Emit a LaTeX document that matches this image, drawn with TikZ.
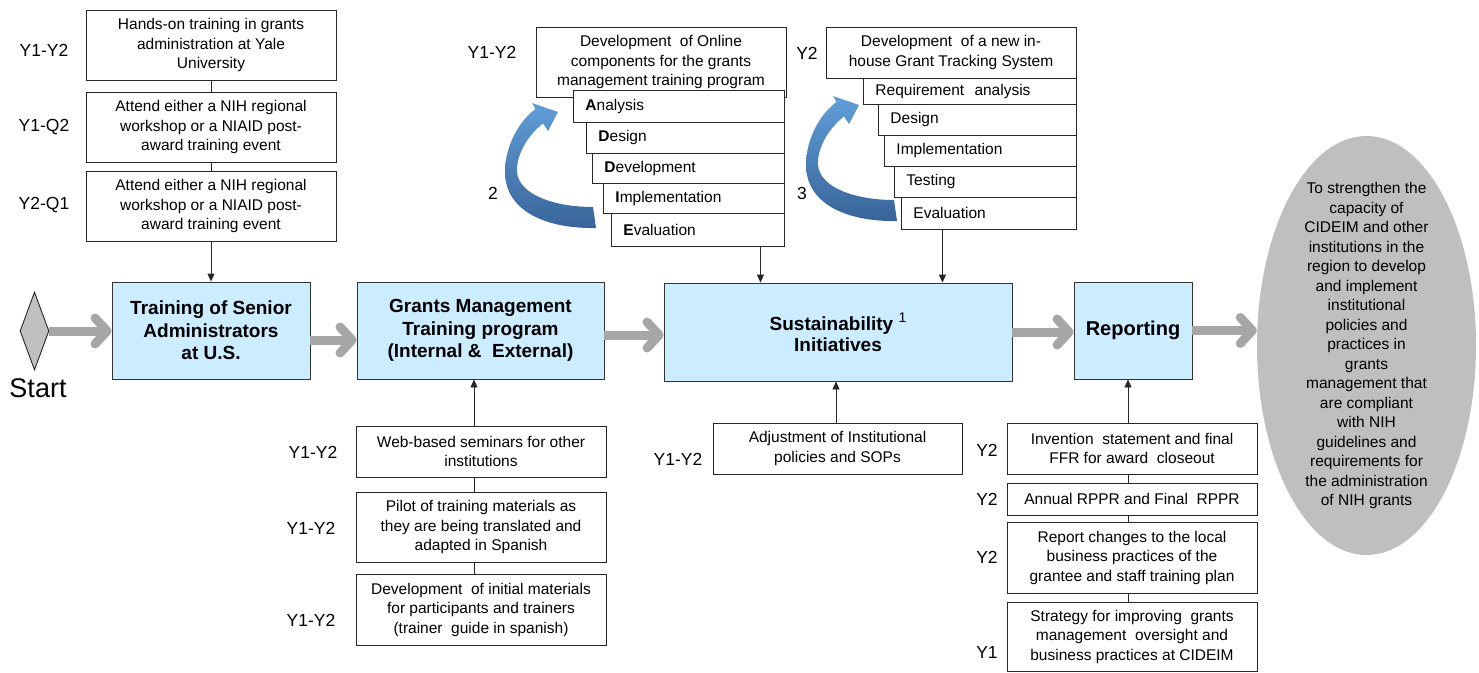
\documentclass[tikz,border=0pt]{standalone}
\usepackage{fontspec}
\setmainfont{Liberation Sans}
\usetikzlibrary{arrows.meta,shapes.geometric}
\definecolor{boxblue}{HTML}{CCECFF}
\definecolor{flowgray}{HTML}{A6A6A6}
\definecolor{goalgray}{HTML}{BFBFBF}
\definecolor{diagray}{HTML}{C0C0C0}
\definecolor{arrlight}{RGB}{96,158,216}
\definecolor{arrdark}{RGB}{56,100,152}
\begin{document}
\begin{tikzpicture}[x=1pt,y=-1pt,
  txt/.style={font=\fontsize{15.5}{19.5}\selectfont},
  box/.style={draw=black!85, line width=0.9pt, fill=white, align=center, inner sep=0pt, txt},
  stair/.style={draw=black!85, line width=0.9pt, fill=white, align=left, anchor=west, inner ysep=0pt, inner xsep=12pt, txt},
  mainbox/.style={draw=black!80, line width=0.9pt, fill=boxblue, align=center, inner sep=0pt, font=\fontsize{19}{22.5}\selectfont\bfseries},
  lab/.style={font=\fontsize{17.5}{20}\selectfont, inner sep=0pt},
  link/.style={draw=black!85, line width=0.9pt},
  feed/.style={link, -{Triangle[length=8pt,width=7pt]}},
  flow/.style={draw=flowgray, line width=9pt, -{Straight Barb[length=12pt,width=26pt,round]}},
  bluearrow/.style={top color=arrlight, bottom color=arrdark, draw=none}
]
\useasboundingbox (0,0) rectangle (1479,672);

% ---------- top-left boxes ----------
\node[box, minimum width=250pt, minimum height=70pt] (t1) at (211,45) {Hands-on training in grants\\administration at Yale\\University};
\node[box, minimum width=250pt, minimum height=70pt] (t2) at (211,127) {Attend either a NIH regional\\workshop or a NIAID post-\\award training event};
\node[box, minimum width=250pt, minimum height=70pt] (t3) at (211,206) {Attend either a NIH regional\\workshop or a NIAID post-\\award training event};
\node[lab] (lt1) at (44,50) {Y1-Y2};
\node[lab] (lt2) at (44,127) {Y1-Q2};
\node[lab] (lt3) at (44,205) {Y2-Q1};

% ---------- main row ----------
\node[diamond, draw=black!85, line width=0.9pt, fill=diagray, minimum width=29pt, minimum height=78pt, inner sep=0pt] (start) at (34.5,331) {};
\node[font=\fontsize{27}{30}\selectfont, inner sep=0pt] (startlab) at (38,388) {Start};
\node[mainbox, minimum width=198pt, minimum height=97pt] (train) at (211,330.5) {Training of Senior\\Administrators\\at U.S.};
\node[mainbox, minimum width=247pt, minimum height=97pt] (grants) at (480.5,330.5) {Grants Management\\Training program\\(Internal \&\ \ External)};
\node[mainbox, minimum width=348pt, minimum height=98pt, font=\fontsize{19}{21}\selectfont\bfseries] (sust) at (838,332) {Sustainability \raisebox{0.42em}{\fontsize{14}{14}\selectfont\mdseries 1}\\Initiatives};
\node[mainbox, minimum width=118pt, minimum height=97pt, font=\fontsize{20}{22}\selectfont\bfseries] (report) at (1133,330.5) {Reporting};
\node[ellipse, fill=goalgray, minimum width=219pt, minimum height=419pt, inner sep=0pt] (goal) at (1366.5,345.5) {};
\node[txt, align=center, inner sep=0pt] (goaltext) at (goal.center) {To strengthen the\\capacity of\\CIDEIM and other\\institutions in the\\region to develop\\and implement\\institutional\\policies and\\practices in\\grants\\management that\\are compliant\\with NIH\\guidelines and\\requirements for\\the administration\\of NIH grants};

% ---------- top middle staircase ----------
\node[box, minimum width=250pt, minimum height=70pt] (m0) at (661,62) {Development\ \ of Online\\components for the grants\\management training program};
\node[stair, text width=187pt, minimum height=32pt] (m1) at (573,106) {\textbf{A}nalysis};
\node[stair, text width=174pt, minimum height=31pt] (m2) at (586,137.5) {\textbf{D}esign};
\node[stair, text width=168pt, minimum height=30pt] (m3) at (592,168) {\textbf{D}evelopment};
\node[stair, text width=157pt, minimum height=30pt] (m4) at (603,198) {\textbf{I}mplementation};
\node[stair, text width=149pt, minimum height=33pt] (m5) at (611,229.5) {\textbf{E}valuation};
\node[lab] (lm0) at (492,52) {Y1-Y2};
\node[lab] (lm2) at (493,193) {2};

% ---------- top right staircase ----------
\node[box, minimum width=250pt, minimum height=51pt] (n0) at (951,52.5) {Development\ \ of a new in-\\house Grant Tracking System};
\node[stair, text width=189pt, minimum height=26pt] (n1) at (863,91) {Requirement\ \ analysis};
\node[stair, text width=174pt, minimum height=31pt] (n2) at (878,119.5) {Design};
\node[stair, text width=168pt, minimum height=31pt] (n3) at (884,150.5) {Implementation};
\node[stair, text width=158pt, minimum height=31pt] (n4) at (894,181.5) {Testing};
\node[stair, text width=151pt, minimum height=32pt] (n5) at (901,213) {Evaluation};
\node[lab] (ln0) at (807,53) {Y2};
\node[lab] (ln3) at (802,193) {3};

% ---------- blue curved arrows ----------
\shade[bluearrow] (596,228) .. controls (548,229) and (505,212) .. (505,172)
  .. controls (505,145) and (520,120) .. (535.5,109)
  -- (532,103) -- (558,112) -- (548,131) -- (543,123.5)
  .. controls (528,135) and (516,155) .. (517,172)
  .. controls (519,195) and (555,207) .. (593,207) -- cycle;
\begin{scope}[shift={(301,-7)}]
\shade[bluearrow] (596,228) .. controls (548,229) and (505,212) .. (505,172)
  .. controls (505,145) and (520,120) .. (535.5,109)
  -- (532,103) -- (558,112) -- (548,131) -- (543,123.5)
  .. controls (528,135) and (516,155) .. (517,172)
  .. controls (519,195) and (555,207) .. (593,207) -- cycle;
\end{scope}

% ---------- bottom boxes ----------
\node[box, minimum width=250pt, minimum height=51pt] (b1) at (481,451.5) {Web-based seminars for other\\institutions};
\node[box, minimum width=250pt, minimum height=70pt] (b2) at (481,527) {Pilot of training materials as\\they are being translated and\\adapted in Spanish};
\node[box, minimum width=250pt, minimum height=71pt] (b3) at (481,609.5) {Development\ \ of initial materials\\for participants and trainers\\(trainer\ \ guide in spanish)};
\node[lab] (lb1) at (313,452) {Y1-Y2};
\node[lab] (lb2) at (311,528) {Y1-Y2};
\node[lab] (lb3) at (311,620) {Y1-Y2};

\node[box, minimum width=249pt, minimum height=51pt] (s1) at (837.5,448.5) {Adjustment of Institutional\\policies and SOPs};
\node[lab] (ls1) at (678,459) {Y1-Y2};

\node[box, minimum width=250pt, minimum height=51pt] (r1) at (1132,448.5) {Invention\ \ statement and final\\FFR for award\ \ closeout};
\node[box, minimum width=250pt, minimum height=32pt] (r2) at (1132,499) {Annual RPPR and Final\ \ RPPR};
\node[box, minimum width=250pt, minimum height=71pt] (r3) at (1132,557.5) {Report changes to the local\\business practices of the\\grantee and staff training plan};
\node[box, minimum width=250pt, minimum height=69pt] (r4) at (1132,636.5) {Strategy for improving\ \ grants\\management\ \ oversight and\\business practices at CIDEIM};
\node[lab] (lr1) at (987,450) {Y2};
\node[lab] (lr2) at (987,499) {Y2};
\node[lab] (lr3) at (987,557) {Y2};
\node[lab] (lr4) at (987,652) {Y1};

% ---------- thin connectors ----------
\draw[link] (t1.south) -- (t2.north);
\draw[link] (t2.south) -- (t3.north);
\draw[feed] (t3.south) -- (train.north);
\draw[feed] ([xshift=62.5pt]m5.south) -- ([xshift=62.5pt]m5.south |- sust.north);
\draw[feed] ([xshift=-46.5pt]n5.south) -- ([xshift=-46.5pt]n5.south |- sust.north);
\draw[link] ([xshift=-7pt]b2.north) -- ([xshift=-7pt]b1.south);
\draw[link] ([xshift=-7pt]b3.north) -- ([xshift=-7pt]b2.south);
\draw[feed] ([xshift=-7pt]b1.north) -- ([xshift=-7pt]b1.north |- grants.south);
\draw[feed] ([xshift=-1.5pt]s1.north) -- ([xshift=-1.5pt]s1.north |- sust.south);
\draw[link] ([xshift=-4pt]r2.north) -- ([xshift=-4pt]r1.south);
\draw[link] ([xshift=-4pt]r3.north) -- ([xshift=-4pt]r2.south);
\draw[link] ([xshift=-4pt]r4.north) -- ([xshift=-4pt]r3.south);
\draw[feed] ([xshift=-4pt]r1.north) -- ([xshift=-4pt]r1.north |- report.south);

% ---------- gray flow arrows ----------
\draw[flow] (start.east) -- (start.east -| train.west);
\draw[flow] ([yshift=-9.5pt]train.east) -- ([yshift=-9.5pt]train.east -| grants.west);
\draw[flow] ([yshift=-4.5pt]grants.east) -- ([yshift=-4.5pt]grants.east -| sust.west);
\draw[flow] (sust.east) -- (sust.east -| report.west);
\draw[flow] (report.east) -- (report.east -| goal.west);
\end{tikzpicture}
\end{document}
